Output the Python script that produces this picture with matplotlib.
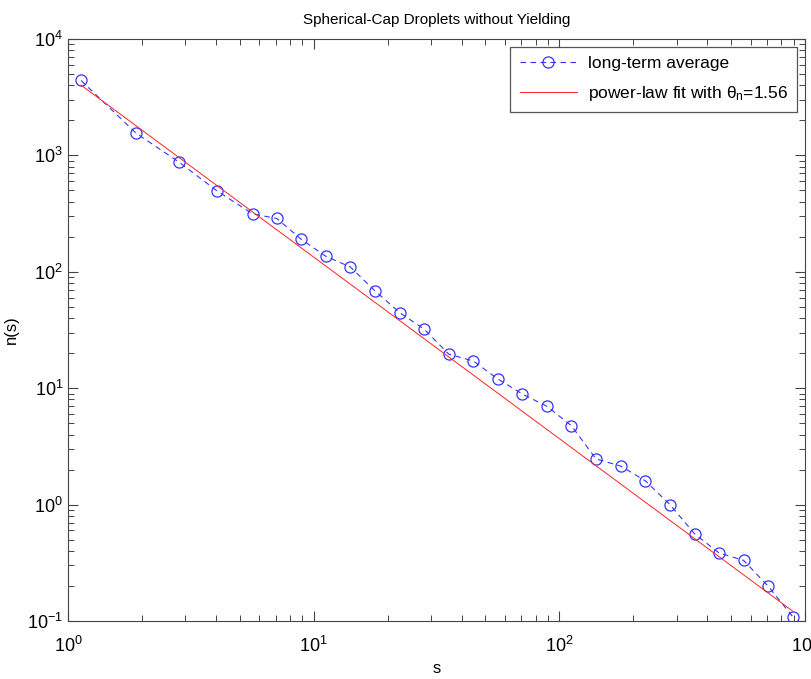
import matplotlib
matplotlib.use("Agg")
import matplotlib.pyplot as plt
import numpy as np

plt.rcParams['font.family'] = ['Liberation Sans', 'DejaVu Sans']
plt.rcParams['mathtext.fontset'] = 'custom'
plt.rcParams['mathtext.rm'] = 'Liberation Sans'
plt.rcParams['mathtext.it'] = 'Liberation Sans'

# droplet size bins and long-term average distribution
s = [1.13, 1.89, 2.84, 4.06, 5.64, 7.08, 8.91, 11.2, 14.1, 17.8, 22.4, 28.2,
     35.5, 44.7, 56.2, 70.8, 89.1, 112, 141, 178, 224, 282, 355, 447, 562,
     708, 891]
n = [4400, 1556, 871, 492, 315, 287, 190, 136, 110, 68.3, 44.6, 32.1,
     19.6, 17.1, 12.0, 8.9, 6.98, 4.76, 2.47, 2.14, 1.60, 1.0, 0.562, 0.384,
     0.332, 0.199, 0.109]

# power-law fit parameters
theta_n = 1.56
amp = 4860.0

s = np.array(s)
fit = amp * s ** (-theta_n)

fig = plt.figure(figsize=(8.12, 6.79), dpi=100)
ax = fig.add_axes([0.0837, 0.0854, 0.9077, 0.8572])

ax.plot(s, n, '--o', color='#3333ff', lw=0.8, ms=8, mfc='none', mew=0.9,
        dashes=(5, 4), label='long-term average')
ax.plot(s, fit, '-', color='#ff2222', lw=0.7,
        label=r'power-law fit with $\theta_{\mathrm{n}}$=1.56')

ax.set_xscale('log')
ax.set_yscale('log')
ax.set_xlim(1, 1000)
ax.set_ylim(0.1, 10000)

ax.tick_params(which='both', direction='in', top=True, right=True,
               labelsize=13, color='#444444')
ax.tick_params(which='major', length=7, width=0.8)
ax.tick_params(which='minor', length=4, width=0.7)
ax.tick_params(axis='x', pad=11)
for sp in ax.spines.values():
    sp.set_linewidth(0.8)
    sp.set_color('#444444')

ax.set_title('Spherical-Cap Droplets without Yielding', fontsize=11, pad=11)
ax.set_xlabel('s', fontsize=12, labelpad=3)
ax.set_ylabel('n(s)', fontsize=12, labelpad=6)

leg = ax.legend(loc='upper right', fontsize=12.5, fancybox=False, framealpha=1,
                edgecolor='#555555', borderaxespad=0.45, handlelength=3.3,
                labelspacing=0.7, borderpad=0.55, handletextpad=0.6)
leg.get_frame().set_linewidth(0.9)

fig.savefig('out.png', dpi=100)
